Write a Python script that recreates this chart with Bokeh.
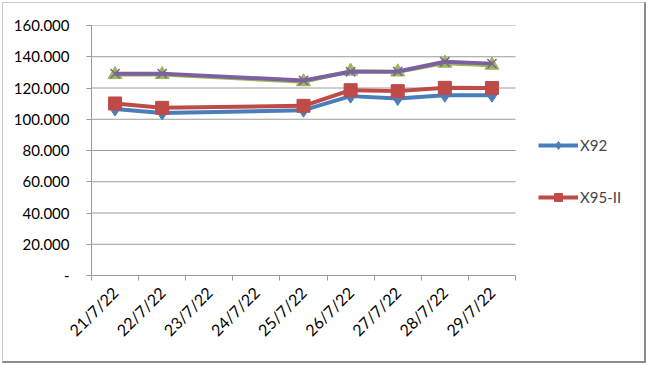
from bokeh.plotting import figure
from bokeh.models import (Range1d, FixedTicker, CustomJSTickFormatter, Legend, LegendItem,
                          ColumnDataSource)
from bokeh.embed import file_html
from bokeh.resources import INLINE
import math

# ---- data ----
categories = ["21/7/22", "22/7/22", "23/7/22", "24/7/22", "25/7/22",
              "26/7/22", "27/7/22", "28/7/22", "29/7/22"]
obs_dates = ["21/7/22", "22/7/22", "25/7/22", "26/7/22", "27/7/22", "28/7/22", "29/7/22"]
x92 = [106.5, 104.0, 105.8, 114.8, 113.3, 115.4, 115.4]
x95_ii = [110.1, 107.3, 108.6, 118.6, 118.0, 120.1, 120.0]
series_3 = [128.6, 128.6, 124.0, 130.8, 130.3, 135.9, 134.6]
series_4 = [129.2, 129.2, 124.8, 130.4, 130.6, 136.8, 135.6]
y_ticks = [0, 20, 40, 60, 80, 100, 120, 140, 160]

FONT = "Lato"
GRAY = "#9a9a9a"

n_cat = len(categories)
xpos = [categories.index(d) + 0.5 for d in obs_dates]

# frame: 424 px for the categories, extended to the right to host the legend
FRAME_W = 554
x_end = n_cat * FRAME_W / 424.0

p = figure(width=644, height=361, output_backend="svg", toolbar_location=None,
           x_range=Range1d(0, x_end), y_range=Range1d(0, 160),
           min_border_left=88, min_border_top=22, min_border_bottom=89, min_border_right=2)
p.outline_line_color = None
p.xgrid.grid_line_color = None
p.ygrid.grid_line_color = None
p.styles = {"border-left": "1px solid #c8c8c8", "border-top": "1px solid #c8c8c8",
            "border-right": "2px solid #8c8c8c", "border-bottom": "2px solid #8c8c8c",
            "box-sizing": "border-box", "margin": "2px 0 0 2px"}

# horizontal gridlines limited to the category area
grid_src = ColumnDataSource(dict(y=y_ticks[1:], x0=[0] * (len(y_ticks) - 1),
                                 x1=[n_cat] * (len(y_ticks) - 1)))
p.segment(x0="x0", x1="x1", y0="y", y1="y", source=grid_src, line_color=GRAY, line_width=1)

# y axis
ya = p.yaxis[0]
ya.ticker = FixedTicker(ticks=y_ticks)
ya.formatter = CustomJSTickFormatter(code="return tick == 0 ? '-' : tick.toFixed(3);")
ya.axis_line_color = GRAY
ya.major_tick_line_color = GRAY
ya.major_tick_out = 5
ya.major_tick_in = 0
ya.minor_tick_line_color = None
ya.major_label_standoff = 17
ya.major_label_text_font = FONT
ya.major_label_text_font_size = "15px"
ya.major_label_text_color = "black"

# x axis
xa = p.xaxis[0]
xa.bounds = (0, n_cat)
xa.ticker = FixedTicker(ticks=[i + 0.5 for i in range(n_cat)],
                        minor_ticks=list(range(n_cat + 1)))
xa.formatter = CustomJSTickFormatter(args=dict(labels=categories),
                                     code="return labels[Math.floor(tick)] || '';")
xa.axis_line_color = GRAY
xa.major_tick_line_color = None
xa.major_tick_out = 0
xa.major_tick_in = 0
xa.minor_tick_line_color = GRAY
xa.minor_tick_out = 5
xa.minor_tick_in = 0
xa.major_label_orientation = math.pi / 4
xa.major_label_standoff = 9
xa.major_label_text_font = FONT
xa.major_label_text_font_size = "16px"
xa.major_label_text_color = "black"

src = ColumnDataSource(dict(x=xpos, x92=x92, x95=x95_ii, s3=series_3, s4=series_4))

l1 = p.line("x", "x92", source=src, line_color="#4a7ebb", line_width=4)
m1 = p.scatter("x", "x92", source=src, marker="diamond", size=14,
               fill_color="#4a7ebb", line_color="#4a7ebb")
l2 = p.line("x", "x95", source=src, line_color="#be4b48", line_width=4)
m2 = p.scatter("x", "x95", source=src, marker="square", size=13,
               fill_color="#be4b48", line_color="#be4b48")
l3 = p.line("x", "s3", source=src, line_color="#98b954", line_width=4)
m3 = p.scatter("x", "s3", source=src, marker="triangle", size=14,
               fill_color="#98b954", line_color="#98b954")
l4 = p.line("x", "s4", source=src, line_color="#7d60a0", line_width=4)
m4 = p.scatter("x", "s4", source=src, marker="x", size=13,
               line_color="#7d60a0", line_width=1.5)

legend = Legend(items=[LegendItem(label="X92", renderers=[l1, m1]),
                       LegendItem(label="X95-II", renderers=[l2, m2])],
                location=(447, 68), orientation="vertical",
                glyph_width=40, glyph_height=20, spacing=32, padding=0,
                label_standoff=2, margin=0,
                label_text_font=FONT, label_text_font_size="15px",
                border_line_color=None, background_fill_alpha=0)
p.add_layout(legend, "center")

open("out.html", "w").write(file_html(p, INLINE))
